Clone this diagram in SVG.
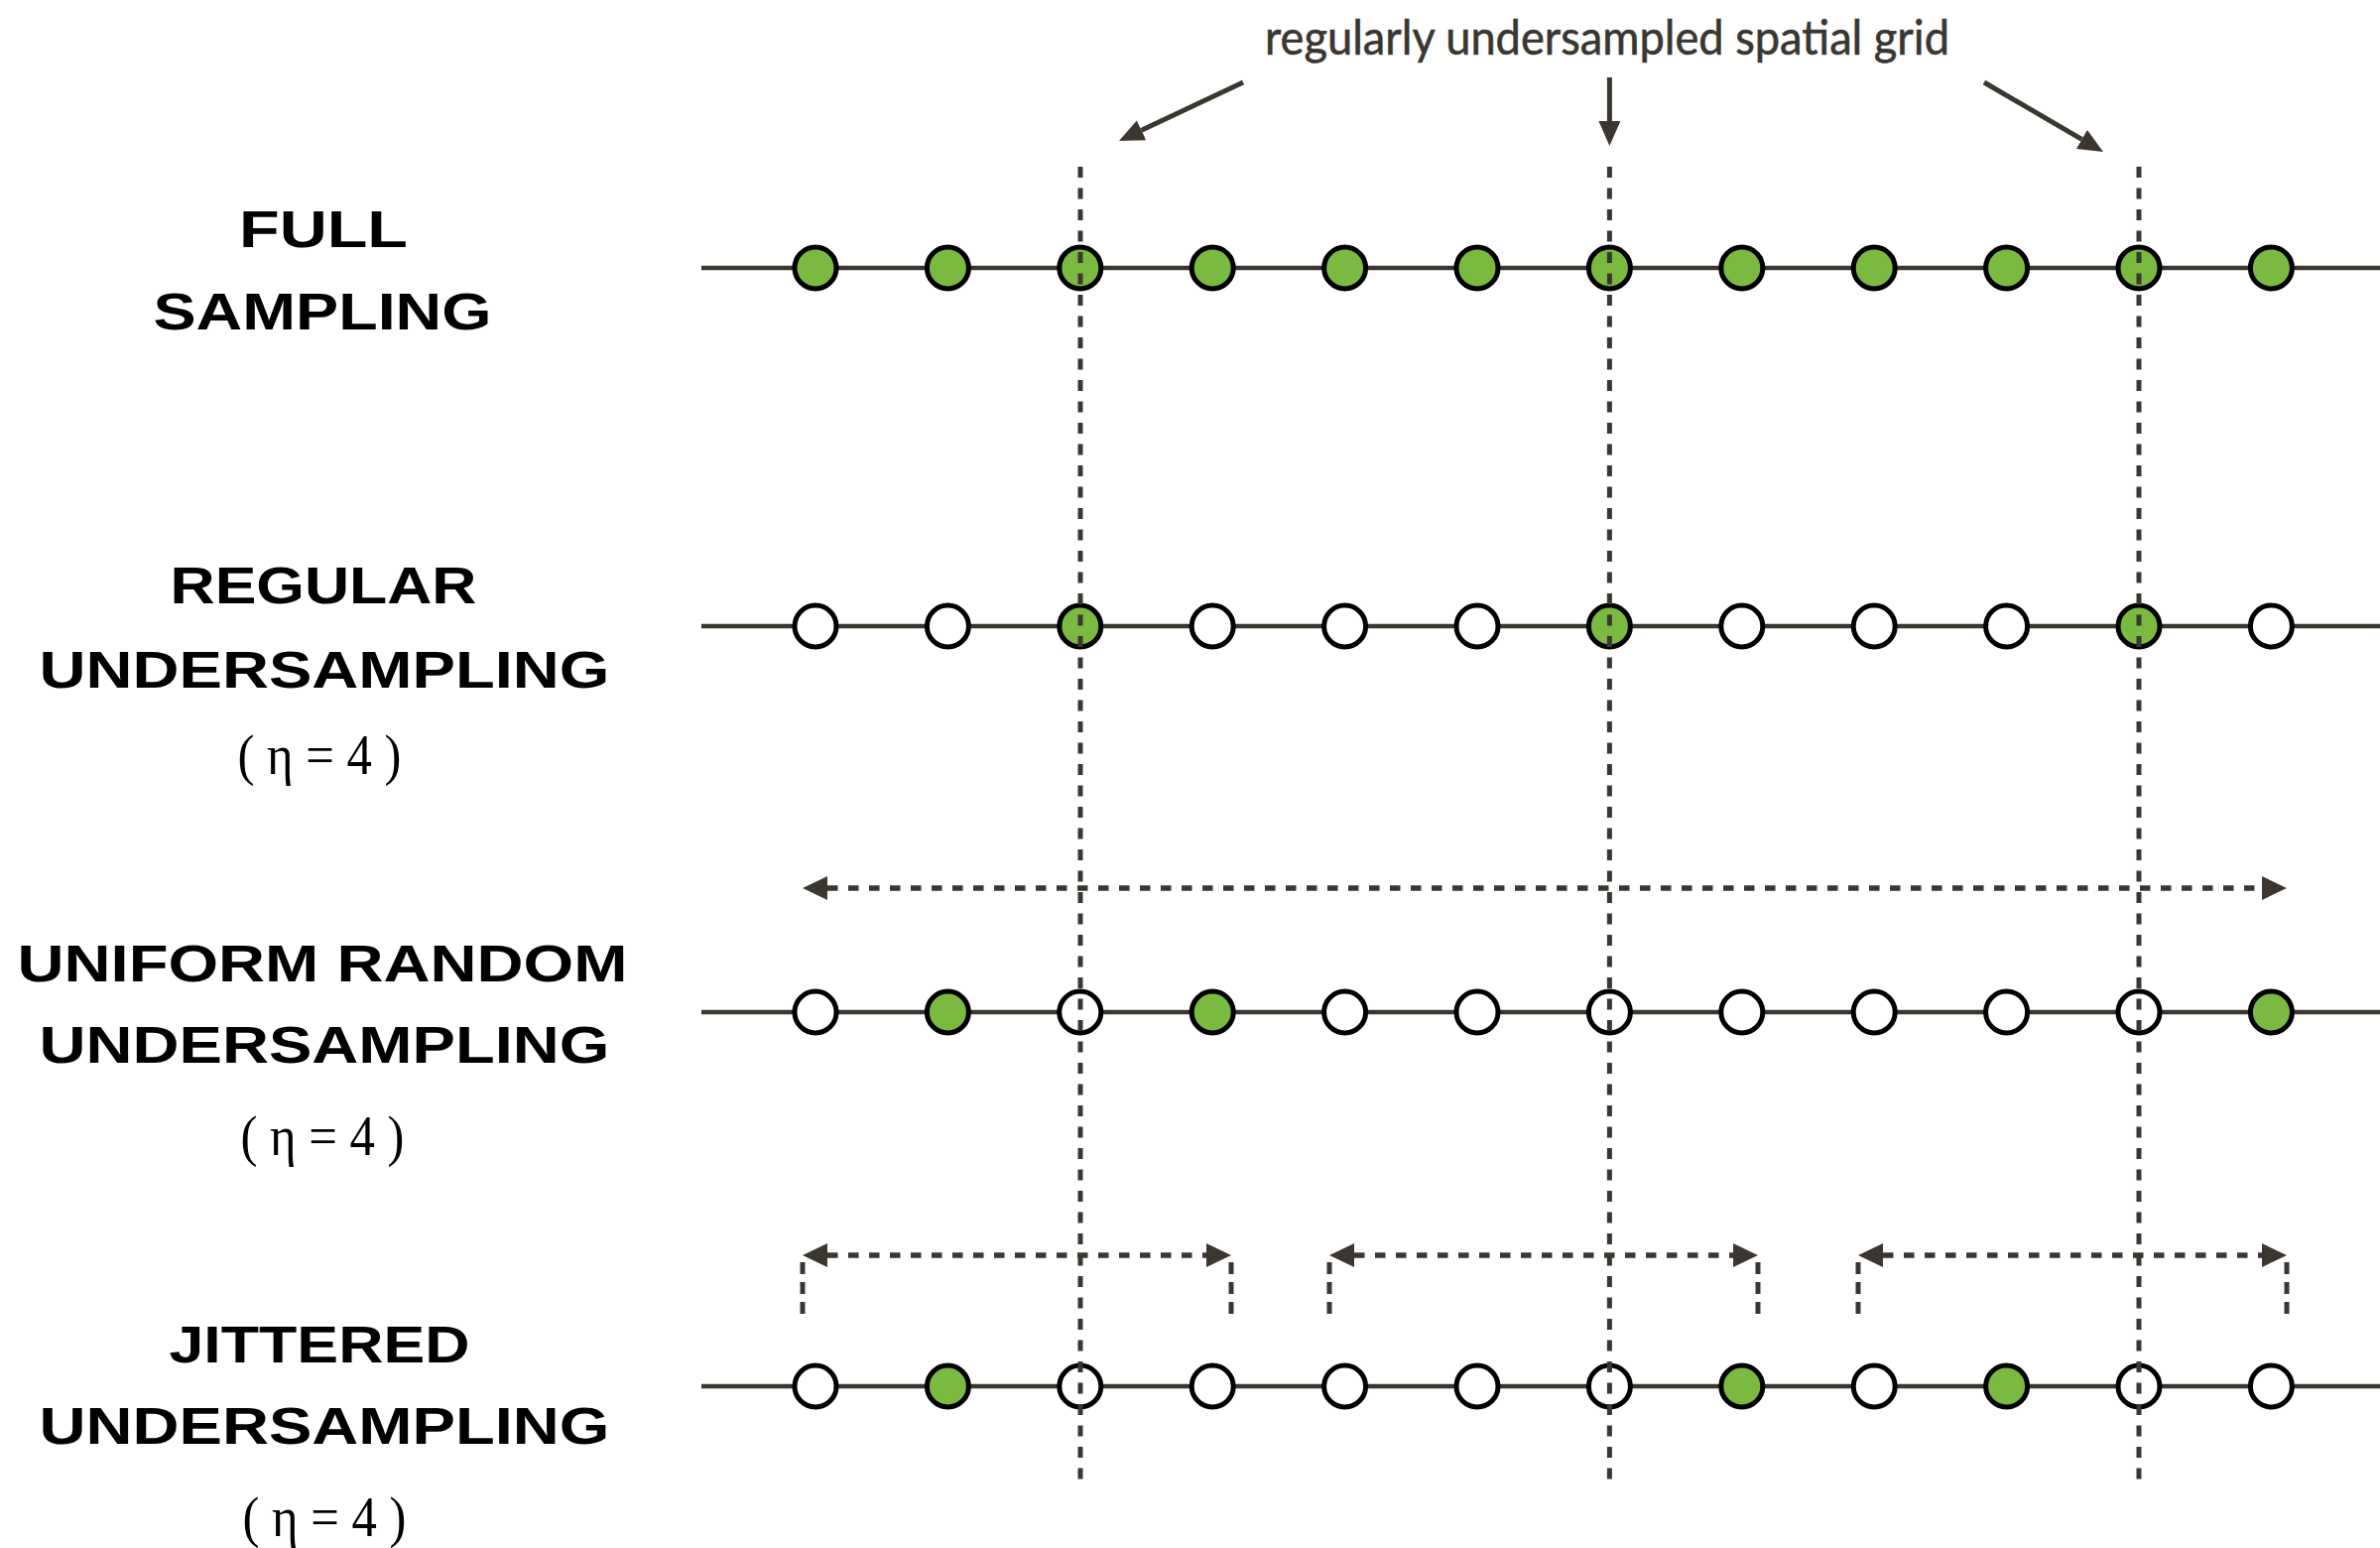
<svg xmlns="http://www.w3.org/2000/svg" width="2399" height="1560" viewBox="0 0 2399 1560">
<style>
.lbl{font-family:"Liberation Sans",Arial,sans-serif;font-weight:700;font-size:51px;fill:#000;text-anchor:middle}
.eta{font-family:"Liberation Serif","Times New Roman",serif;font-size:58px;fill:#000;text-anchor:middle}
.top{font-family:Lato,"Open Sans",sans-serif;font-size:49px;fill:#3a3630;stroke:#3a3630;stroke-width:0.6}
.axis{stroke:#3b3730;stroke-width:4.5;fill:none}
.on{fill:#7aba41;stroke:#000;stroke-width:5}
.off{fill:#fff;stroke:#000;stroke-width:5}
.grid{stroke:#3b3730;stroke-width:5;stroke-dasharray:11 10.5;fill:none}
.span{stroke:#3b3730;stroke-width:5.5;stroke-dasharray:10.5 10.5;fill:none}
.tick{stroke:#3b3730;stroke-width:5;stroke-dasharray:12 8;fill:none}
.ptr{stroke:#3b3730;stroke-width:5;fill:none}
</style>
<defs>
<marker id="ah" viewBox="0 0 25 24" refX="0" refY="12" markerWidth="25" markerHeight="24" markerUnits="userSpaceOnUse" orient="auto-start-reverse">
<path d="M0,0 L25,12 L0,24 z" fill="#3b3730"/>
</marker>
<marker id="ah2" viewBox="0 0 25 22" refX="0" refY="11" markerWidth="25" markerHeight="22" markerUnits="userSpaceOnUse" orient="auto">
<path d="M0,0 L25,11 L0,22 z" fill="#3b3730"/>
</marker>
</defs>
<rect width="2399" height="1560" fill="#fff"/>

<g id="labels">
<g id="label-full">
<text class="lbl" x="326" y="249" textLength="170" lengthAdjust="spacingAndGlyphs">FULL</text>
<text class="lbl" x="325" y="332" textLength="341" lengthAdjust="spacingAndGlyphs">SAMPLING</text>
</g>
<g id="label-regular">
<text class="lbl" x="326" y="608" textLength="309" lengthAdjust="spacingAndGlyphs">REGULAR</text>
<text class="lbl" x="327" y="693" textLength="575" lengthAdjust="spacingAndGlyphs">UNDERSAMPLING</text>
<text class="eta" x="322" y="780" textLength="165" lengthAdjust="spacingAndGlyphs">( η = 4 )</text>
</g>
<g id="label-random">
<text class="lbl" x="325" y="989" textLength="615" lengthAdjust="spacingAndGlyphs">UNIFORM RANDOM</text>
<text class="lbl" x="327" y="1071" textLength="575" lengthAdjust="spacingAndGlyphs">UNDERSAMPLING</text>
<text class="eta" x="325" y="1164" textLength="165" lengthAdjust="spacingAndGlyphs">( η = 4 )</text>
</g>
<g id="label-jittered">
<text class="lbl" x="322" y="1373" textLength="303" lengthAdjust="spacingAndGlyphs">JITTERED</text>
<text class="lbl" x="327" y="1455" textLength="575" lengthAdjust="spacingAndGlyphs">UNDERSAMPLING</text>
<text class="eta" x="327" y="1548" textLength="165" lengthAdjust="spacingAndGlyphs">( η = 4 )</text>
</g>
<g id="label-grid">
<text class="top" x="1275" y="55" textLength="690" lengthAdjust="spacingAndGlyphs">regularly undersampled spatial grid</text>
</g>
</g>

<g id="axes">
<line class="axis" x1="707" y1="270" x2="2399" y2="270"/>
<line class="axis" x1="707" y1="631" x2="2399" y2="631"/>
<line class="axis" x1="707" y1="1020" x2="2399" y2="1020"/>
<line class="axis" x1="707" y1="1397" x2="2399" y2="1397"/>
</g>

<g id="row-full">
<circle id="f0" class="on" cx="822" cy="270" r="21"/>
<circle id="f1" class="on" cx="955.4" cy="270" r="21"/>
<circle id="f2" class="on" cx="1088.8" cy="270" r="21"/>
<circle id="f3" class="on" cx="1222.2" cy="270" r="21"/>
<circle id="f4" class="on" cx="1355.6" cy="270" r="21"/>
<circle id="f5" class="on" cx="1489" cy="270" r="21"/>
<circle id="f6" class="on" cx="1622.4" cy="270" r="21"/>
<circle id="f7" class="on" cx="1755.8" cy="270" r="21"/>
<circle id="f8" class="on" cx="1889.2" cy="270" r="21"/>
<circle id="f9" class="on" cx="2022.6" cy="270" r="21"/>
<circle id="f10" class="on" cx="2156" cy="270" r="21"/>
<circle id="f11" class="on" cx="2289.4" cy="270" r="21"/>
</g>
<g id="row-regular">
<circle id="r0" class="off" cx="822" cy="631" r="21"/>
<circle id="r1" class="off" cx="955.4" cy="631" r="21"/>
<circle id="r2" class="on" cx="1088.8" cy="631" r="21"/>
<circle id="r3" class="off" cx="1222.2" cy="631" r="21"/>
<circle id="r4" class="off" cx="1355.6" cy="631" r="21"/>
<circle id="r5" class="off" cx="1489" cy="631" r="21"/>
<circle id="r6" class="on" cx="1622.4" cy="631" r="21"/>
<circle id="r7" class="off" cx="1755.8" cy="631" r="21"/>
<circle id="r8" class="off" cx="1889.2" cy="631" r="21"/>
<circle id="r9" class="off" cx="2022.6" cy="631" r="21"/>
<circle id="r10" class="on" cx="2156" cy="631" r="21"/>
<circle id="r11" class="off" cx="2289.4" cy="631" r="21"/>
</g>
<g id="row-random">
<circle id="u0" class="off" cx="822" cy="1020" r="21"/>
<circle id="u1" class="on" cx="955.4" cy="1020" r="21"/>
<circle id="u2" class="off" cx="1088.8" cy="1020" r="21"/>
<circle id="u3" class="on" cx="1222.2" cy="1020" r="21"/>
<circle id="u4" class="off" cx="1355.6" cy="1020" r="21"/>
<circle id="u5" class="off" cx="1489" cy="1020" r="21"/>
<circle id="u6" class="off" cx="1622.4" cy="1020" r="21"/>
<circle id="u7" class="off" cx="1755.8" cy="1020" r="21"/>
<circle id="u8" class="off" cx="1889.2" cy="1020" r="21"/>
<circle id="u9" class="off" cx="2022.6" cy="1020" r="21"/>
<circle id="u10" class="off" cx="2156" cy="1020" r="21"/>
<circle id="u11" class="on" cx="2289.4" cy="1020" r="21"/>
</g>
<g id="row-jittered">
<circle id="j0" class="off" cx="822" cy="1397" r="21"/>
<circle id="j1" class="on" cx="955.4" cy="1397" r="21"/>
<circle id="j2" class="off" cx="1088.8" cy="1397" r="21"/>
<circle id="j3" class="off" cx="1222.2" cy="1397" r="21"/>
<circle id="j4" class="off" cx="1355.6" cy="1397" r="21"/>
<circle id="j5" class="off" cx="1489" cy="1397" r="21"/>
<circle id="j6" class="off" cx="1622.4" cy="1397" r="21"/>
<circle id="j7" class="on" cx="1755.8" cy="1397" r="21"/>
<circle id="j8" class="off" cx="1889.2" cy="1397" r="21"/>
<circle id="j9" class="on" cx="2022.6" cy="1397" r="21"/>
<circle id="j10" class="off" cx="2156" cy="1397" r="21"/>
<circle id="j11" class="off" cx="2289.4" cy="1397" r="21"/>
</g>

<g id="connectors">
<line class="grid" x1="1089" y1="168" x2="1089" y2="1500"/>
<line class="grid" x1="1622.4" y1="168" x2="1622.4" y2="1500"/>
<line class="grid" x1="2156" y1="168" x2="2156" y2="1500"/>

<line class="ptr" x1="1253" y1="83" x2="1150.6" y2="131.3" marker-end="url(#ah2)"/>
<line class="ptr" x1="1622.4" y1="78" x2="1622.4" y2="122" marker-end="url(#ah2)"/>
<line class="ptr" x1="2000" y1="83" x2="2098.4" y2="140.4" marker-end="url(#ah2)"/>

<line class="span" x1="834" y1="895" x2="2280" y2="895" marker-start="url(#ah)" marker-end="url(#ah)"/>

<line class="span" x1="834" y1="1265" x2="1216" y2="1265" marker-start="url(#ah)" marker-end="url(#ah)"/>
<line class="span" x1="1365" y1="1265" x2="1747" y2="1265" marker-start="url(#ah)" marker-end="url(#ah)"/>
<line class="span" x1="1898" y1="1265" x2="2280" y2="1265" marker-start="url(#ah)" marker-end="url(#ah)"/>
<line class="tick" x1="809" y1="1272" x2="809" y2="1324"/>
<line class="tick" x1="1241" y1="1272" x2="1241" y2="1324"/>
<line class="tick" x1="1340" y1="1272" x2="1340" y2="1324"/>
<line class="tick" x1="1772" y1="1272" x2="1772" y2="1324"/>
<line class="tick" x1="1873" y1="1272" x2="1873" y2="1324"/>
<line class="tick" x1="2305" y1="1272" x2="2305" y2="1324"/>
</g>
</svg>
